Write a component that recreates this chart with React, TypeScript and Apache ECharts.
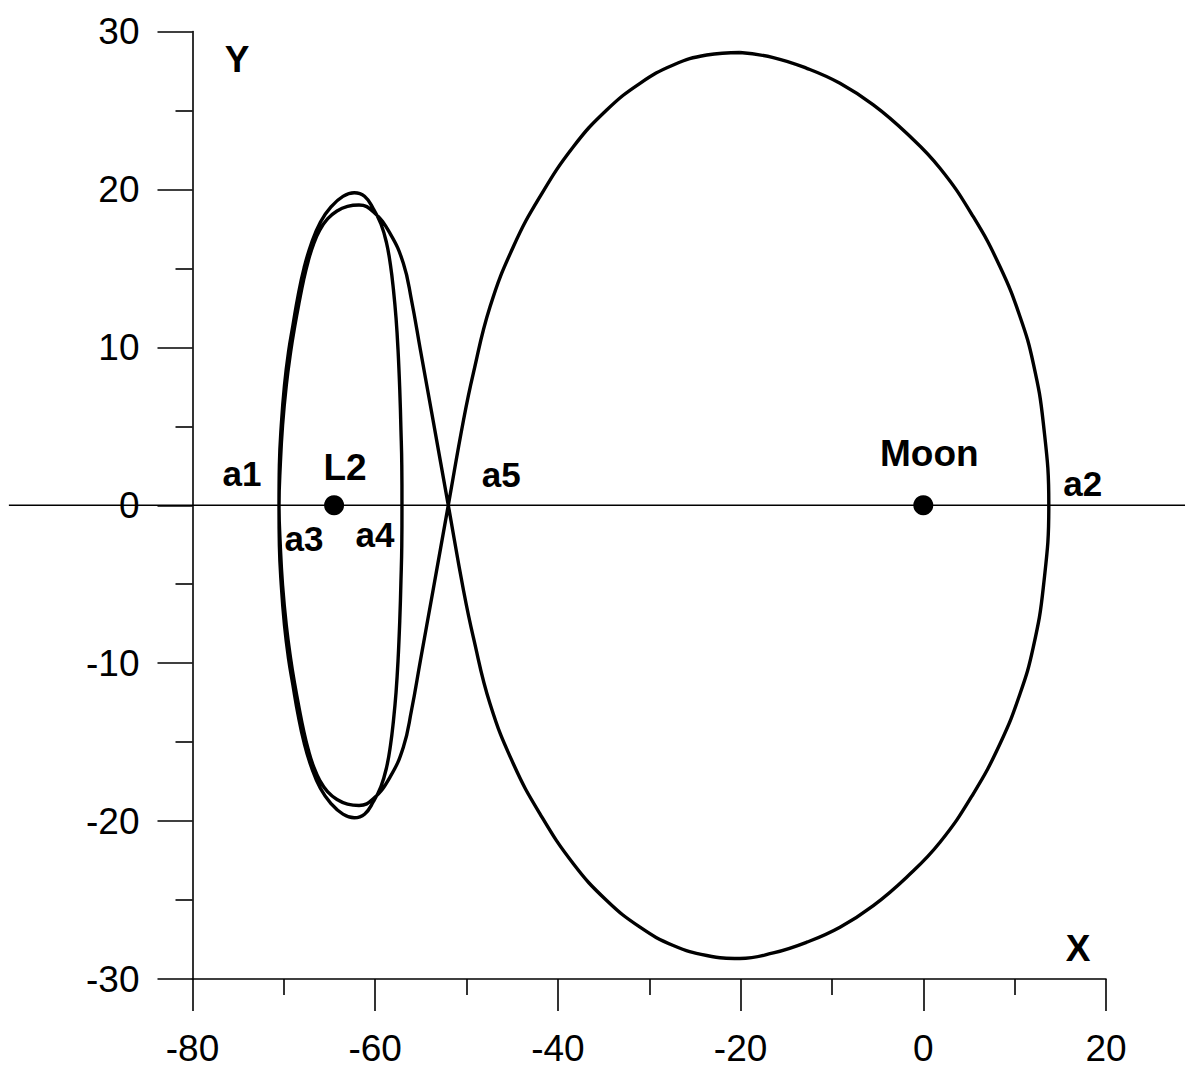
import React, { useEffect, useRef } from "react";
import * as echarts from "echarts";

const FONT = "'Liberation Sans', Arial, Helvetica, sans-serif";

// Axis ranges and tick spacing
const xRange = [-80, 20];
const yRange = [-30, 30];
const xStep = 20;
const yStep = 10;

// Reference line along y = 0, running past both ends of the plot box
const baselineX = [-100.1, 28.65];

// Trajectory, in path order (x, y)
// Large loop around the Moon: from its top, clockwise, down to the crossing point
const bigLoop: [number, number][] = [
  [-20.07, 28.67], [-16.42, 28.35], [-12.76, 27.67], [-9.12, 26.72], [-5.47, 25.35],
  [-1.82, 23.55], [1.83, 21.34], [5.47, 18.27], [8.4, 15.1], [10.59, 11.94],
  [12.04, 8.99], [13.14, 5.19], [13.74, 0], [13.14, -5.19], [12.04, -8.99],
  [10.59, -11.94], [8.4, -15.1], [5.47, -18.27], [1.83, -21.34], [-1.82, -23.55],
  [-5.47, -25.35], [-9.12, -26.72], [-12.76, -27.67], [-16.42, -28.35], [-20.07, -28.7],
  [-23.71, -28.51], [-27.37, -27.88], [-31.01, -26.72], [-34.66, -25.03], [-38.31, -22.7],
  [-41.96, -19.54], [-44.88, -16.37], [-47.43, -12.57], [-49.26, -8.35], [-50.33, -5.4],
  [-52.0, 0],
];
// Crossing point up to the top of the inner arc
const toInnerTop: [number, number][] = [
  [-53.67, 5.4], [-55.05, 9.83], [-56.03, 13.0], [-56.92, 15.32], [-58.38, 17.22],
  [-60.21, 18.59], [-61.77, 19.01],
];
// Down the left side (inner arc above the axis, outer arc below) to the outer bottom
const leftPassA: [number, number][] = [
  [-63.03, 18.92], [-64.18, 18.63], [-65.22, 18.13], [-66.06, 17.43], [-66.75, 16.54],
  [-67.33, 15.47], [-67.84, 14.26], [-68.32, 12.87], [-68.82, 11.29], [-69.26, 9.7],
  [-69.73, 7.61], [-70.14, 5.08], [-70.39, 2.55], [-70.53, 0],
  [-70.49, -2.55], [-70.28, -5.08], [-69.93, -7.61], [-69.49, -9.7], [-69.0, -11.41],
  [-68.45, -13.25], [-67.79, -15.02], [-66.97, -16.61], [-65.99, -17.94], [-64.84, -18.89],
  [-63.53, -19.56], [-62.29, -19.79],
];
// Up the right side of the small orbit to the top of the outer arc
const rightPass: [number, number][] = [
  [-61.17, -19.57], [-60.19, -18.76], [-59.37, -17.81], [-58.76, -16.61], [-58.33, -15.21],
  [-58.0, -13.63], [-57.72, -11.86], [-57.5, -9.83], [-57.31, -7.3], [-57.18, -4.76],
  [-57.09, -2.55], [-57.07, 0], [-57.09, 2.55], [-57.18, 4.76], [-57.31, 7.3],
  [-57.5, 9.83], [-57.72, 11.86], [-58.0, 13.63], [-58.33, 15.21], [-58.76, 16.61],
  [-59.37, 17.81], [-60.19, 18.76], [-61.17, 19.57], [-62.29, 19.79],
];
// Down the left side again (outer arc above the axis, inner arc below) to the inner bottom
const leftPassB: [number, number][] = [
  [-63.53, 19.56], [-64.84, 18.89], [-65.99, 17.94], [-66.97, 16.61], [-67.79, 15.02],
  [-68.45, 13.25], [-69.0, 11.41], [-69.49, 9.7], [-69.93, 7.61], [-70.28, 5.08],
  [-70.49, 2.55], [-70.53, 0],
  [-70.39, -2.55], [-70.14, -5.08], [-69.73, -7.61], [-69.26, -9.7], [-68.82, -11.29],
  [-68.32, -12.87], [-67.84, -14.26], [-67.33, -15.47], [-66.75, -16.54], [-66.06, -17.43],
  [-65.22, -18.13], [-64.18, -18.63], [-63.03, -18.92], [-61.77, -19.01],
];
// Back through the crossing point and up to the top of the large loop
const backToStart: [number, number][] = [
  [-60.21, -18.59], [-58.38, -17.22], [-56.92, -15.32], [-56.03, -13.0], [-55.05, -9.83],
  [-53.67, -5.4], [-52.0, 0],
  [-50.33, 5.4], [-49.26, 8.35], [-47.43, 12.57], [-44.88, 16.37], [-41.96, 19.54],
  [-38.31, 22.7], [-34.66, 25.03], [-31.01, 26.72], [-27.37, 27.88], [-23.71, 28.51],
  [-20.07, 28.67],
];

// Bodies
const bodyNames = ["L2", "Moon"];
const bodyX = [-64.5, 0];
const bodyLabelOffsets: [number, number][] = [[11, -38], [6, -52]];

// Marked crossings of the x axis
const crossNames = ["a1", "a2", "a3", "a4", "a5"];
const crossX = [-70.53, 13.74, -70.53, -57.07, -52.0];
const crossLabelOffsets: [number, number][] = [[-37, -32], [34, -22], [25, 33], [-27, 29], [53, -31]];

const orbit = [
  ...bigLoop,
  ...toInnerTop,
  ...leftPassA,
  ...rightPass,
  ...leftPassB,
  ...backToStart,
];

const nameStyle = {
  fontSize: 37,
  fontWeight: "bold",
  fontFamily: FONT,
  fill: "#000",
  align: "center",
  verticalAlign: "middle",
};

export default function App() {
  const ref = useRef<HTMLDivElement>(null);

  useEffect(() => {
    if (!ref.current) return;
    const chart = echarts.init(ref.current, null, { renderer: "svg" });

    const axisLineStyle = { color: "#000", width: 1.6 };

    chart.setOption({
      animation: false,
      backgroundColor: "#fff",
      grid: {
        left: 192.5,
        right: 88,
        top: 31.5,
        bottom: 91,
        containLabel: false,
        outerBoundsMode: "none",
      },
      xAxis: {
        type: "value",
        min: xRange[0],
        max: xRange[1],
        interval: xStep,
        axisLine: { show: true, onZero: false, lineStyle: axisLineStyle },
        axisTick: { show: true, length: 32, lineStyle: axisLineStyle },
        minorTick: { show: true, splitNumber: 2, length: 16, lineStyle: axisLineStyle },
        splitLine: { show: false },
        minorSplitLine: { show: false },
        axisLabel: { color: "#000", fontSize: 37, fontFamily: FONT, margin: 51 },
      },
      yAxis: {
        type: "value",
        min: yRange[0],
        max: yRange[1],
        interval: yStep,
        axisLine: { show: true, onZero: false, lineStyle: axisLineStyle },
        axisTick: { show: true, length: 35, lineStyle: axisLineStyle },
        minorTick: { show: true, splitNumber: 2, length: 17, lineStyle: axisLineStyle },
        splitLine: { show: false },
        minorSplitLine: { show: false },
        axisLabel: { color: "#000", fontSize: 37, fontFamily: FONT, margin: 53 },
      },
      series: [
        {
          type: "line",
          data: orbit,
          smooth: 0.45,
          symbol: "none",
          clip: false,
          silent: true,
          z: 2,
          lineStyle: { color: "#000", width: 3.4 },
        },
        {
          type: "scatter",
          data: bodyNames.map((name, i) => ({
            name,
            value: [bodyX[i], 0],
            label: { offset: bodyLabelOffsets[i] },
          })),
          symbol: "circle",
          symbolSize: 20,
          itemStyle: { color: "#000", opacity: 1 },
          silent: true,
          z: 3,
          label: {
            show: true,
            position: "inside",
            formatter: "{b}",
            color: "#000",
            opacity: 1,
            textBorderWidth: 0,
            fontSize: 37,
            fontWeight: "bold",
            fontFamily: FONT,
          },
        },
        {
          type: "scatter",
          data: crossNames.map((name, i) => ({
            name,
            value: [crossX[i], 0],
            label: { offset: crossLabelOffsets[i] },
          })),
          symbol: "circle",
          symbolSize: 1,
          itemStyle: { color: "rgba(0,0,0,0)", opacity: 1 },
          silent: true,
          z: 3,
          label: {
            show: true,
            position: "inside",
            formatter: "{b}",
            color: "#000",
            opacity: 1,
            textBorderWidth: 0,
            fontSize: 35,
            fontWeight: "bold",
            fontFamily: FONT,
          },
        },
      ],
    });

    // y = 0 reference line, placed through the axes' own scales
    const p0 = chart.convertToPixel({ xAxisIndex: 0, yAxisIndex: 0 }, [baselineX[0], 0]) as number[];
    const p1 = chart.convertToPixel({ xAxisIndex: 0, yAxisIndex: 0 }, [baselineX[1], 0]) as number[];

    chart.setOption({
      graphic: [
        {
          id: "baseline",
          type: "line",
          z: 1,
          silent: true,
          shape: { x1: p0[0], y1: p0[1], x2: p1[0], y2: p1[1] },
          style: { stroke: "#000", lineWidth: 1.6 },
        },
        { id: "yName", type: "text", x: 237, y: 59, silent: true, style: { text: "Y", ...nameStyle } },
        { id: "xName", type: "text", x: 1078, y: 948, silent: true, style: { text: "X", ...nameStyle } },
      ],
    });

    return () => chart.dispose();
  }, []);

  return (
    <div
      ref={ref}
      style={{
        position: "fixed",
        left: 0,
        top: 0,
        width: 1194,
        height: 1070,
        background: "#fff",
      }}
    />
  );
}
